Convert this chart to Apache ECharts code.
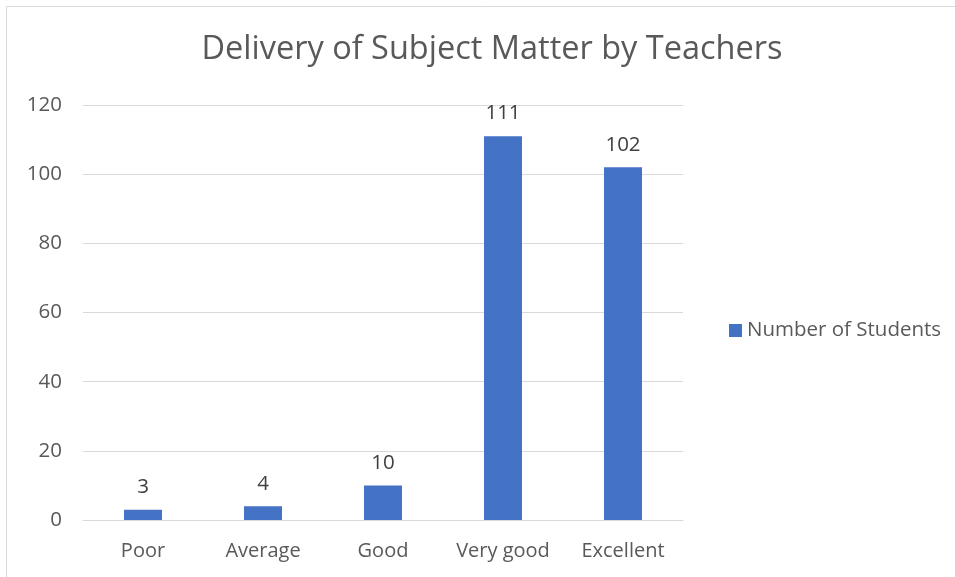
<!DOCTYPE html>
<html>
<head>
<meta charset="utf-8">
<script src="https://cdn.jsdelivr.net/npm/echarts@6/dist/echarts.min.js"></script>
<style>
    html, body { margin: 0; padding: 0; background: #fff; }
    #chart { width: 955px; height: 577px; }
</style>
</head>
<body>
<div id="chart"></div>
<script>
const categories = ["Poor", "Average", "Good", "Very good", "Excellent"];
const students = [3, 4, 10, 111, 102];
const yTicks = [0, 20, 40, 60, 80, 100, 120];

const font = "'Open Sans', 'Noto Sans', sans-serif";

let chart = echarts.init(document.getElementById("chart"));

let options = {
    animation: false,
    textStyle: { fontFamily: font },
    title: {
        text: "Delivery of Subject Matter by Teachers",
        left: 487,
        top: 28,
        textAlign: "center",
        textStyle: {
            color: "#595959",
            fontSize: 32.5,
            fontWeight: "normal",
            fontFamily: font
        }
    },
    graphic: [{
        type: "rect",
        shape: { x: 6.5, y: 6.5, width: 1000, height: 700 },
        style: { fill: "none", stroke: "#d9d9d9", lineWidth: 1 },
        silent: true
    }],
    legend: {
        orient: "vertical",
        left: 724,
        top: 315,
        itemWidth: 13,
        itemHeight: 13,
        itemGap: 6,
        icon: "rect",
        textStyle: { color: "#595959", fontSize: 20.5, fontFamily: font }
    },
    grid: {
        left: 83,
        right: 272,
        top: 105,
        bottom: 57,
        containLabel: false
    },
    xAxis: {
        type: "category",
        data: categories,
        axisLine: { lineStyle: { color: "#d9d9d9", width: 1 } },
        axisTick: { show: false },
        axisLabel: {
            interval: 0,
            hideOverlap: false,
            color: "#595959",
            fontSize: 20,
            margin: 21,
            fontFamily: font
        }
    },
    yAxis: {
        type: "value",
        min: yTicks[0],
        max: yTicks[yTicks.length - 1],
        interval: 20,
        axisLine: { show: false },
        axisTick: { show: false },
        splitLine: { lineStyle: { color: "#d9d9d9", width: 1 } },
        axisLabel: { color: "#595959", fontSize: 20.5, margin: 21, fontFamily: font }
    },
    series: [{
        name: "Number of Students",
        type: "bar",
        data: students,
        barWidth: 38,
        itemStyle: { color: "#4472c4" },
        label: {
            show: true,
            position: "top",
            distance: 12,
            color: "#404040",
            fontSize: 20.5,
            fontFamily: font
        }
    }]
};
chart.setOption(options);
</script>
</body>
</html>
